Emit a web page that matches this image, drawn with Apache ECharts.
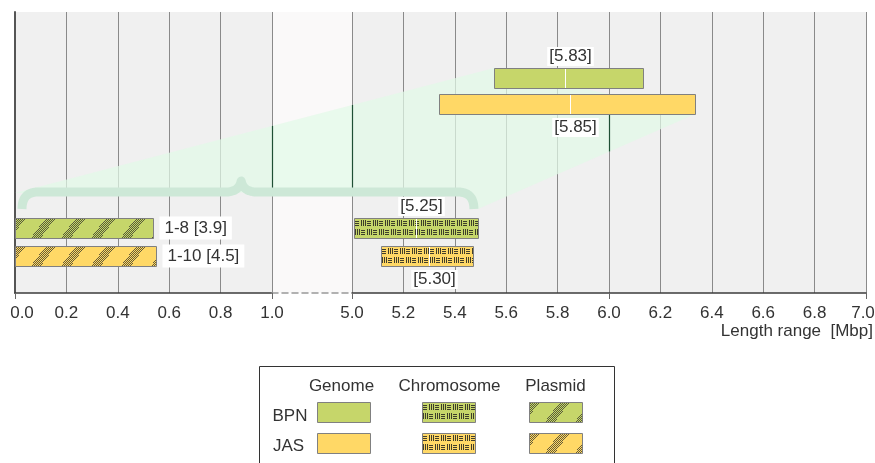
<!DOCTYPE html>
<html>
<head>
<meta charset="utf-8">
<script src="https://cdn.jsdelivr.net/npm/echarts@6/dist/echarts.min.js"></script>
<style>html,body{margin:0;padding:0;background:#fff}#chart{width:875px;height:463px}</style>
</head>
<body>
<div id="chart"></div>
<script>
// data
var groups = ['BPN', 'JAS'];
var genomeRange = [[5.553, 6.132], [5.34, 6.336]];
var genomeMedian = [5.83, 5.85];
var chromosomeRange = [[5.008, 5.49], [5.113, 5.471]];
var chromosomeMedian = [5.25, 5.30];
var plasmidRange = [[0.0, 0.537], [0.0, 0.547]];
var plasmidCount = ['1-8', '1-10'];
var plasmidMedian = [3.9, 4.5];
var leftRange = [0, 1];
var rightRange = [5, 7];
var tickStep = 0.2;
var majorLeft = [0, 1];
var majorRight = [5, 6, 7];
var legendCols = ['Genome', 'Chromosome', 'Plasmid'];

// layout / style
var FONT = '"Liberation Sans", Arial, sans-serif';
var TEXT = '#333';
var groupColor = ['#c6d66a', '#ffd866'];
var genomeRowY = [78, 104];
var lowerRowY = [228, 256];
var BAR_H = 20;
var TOP = 12, BOTTOM = 293;

// 纹理: chromosome (short dash weave) and plasmid (diagonal dotted stripes)
function chromTile() {
  var c = document.createElement('canvas');
  c.width = 12; c.height = 20;
  var ctx = c.getContext('2d');
  ctx.fillStyle = 'rgba(45,45,35,0.9)';
  function hor(x0, y0) { for (var k = 0; k < 3; k++) ctx.fillRect(x0, y0 + k * 2, 4, 1); }
  function ver(x0, y0) { for (var k = 0; k < 3; k++) ctx.fillRect(x0 + k * 2, y0, 1, 6); }
  hor(1, 3); ver(7, 2);
  ver(1, 11); hor(7, 12);
  return c;
}
function plasmidTile() {
  var W = 30, H = 40;
  var c = document.createElement('canvas');
  c.width = W; c.height = H;
  var ctx = c.getContext('2d');
  var img = ctx.createImageData(W, H);
  for (var y = 0; y < H; y++) {
    for (var x = 0; x < W; x++) {
      var u = (x + 0.75 * y) % W;
      var o = (y * W + x) * 4;
      if (u < 10 && (x + y) % 2 === 0) {
        img.data[o] = 50; img.data[o + 1] = 50; img.data[o + 2] = 40; img.data[o + 3] = 190;
      }
    }
  }
  ctx.putImageData(img, 0, 0);
  return c;
}
var CHROM = chromTile();
var PLAS = plasmidTile();

function rangeBar(rowY, labelPos, texture, labelFn) {
  return function (params, api) {
    var i = params.dataIndex;
    var p0 = api.coord([api.value(0), rowY[i]]);
    var p1 = api.coord([api.value(1), rowY[i]]);
    var x = Math.round(p0[0]) + 0.5, x2 = Math.round(p1[0]) + 0.5;
    var y = Math.round(p0[1] - BAR_H / 2) + 0.5;
    var shape = { x: x, y: y, width: x2 - x, height: BAR_H };
    var kids = [{ type: 'rect', shape: shape, style: { fill: groupColor[i] } }];
    if (texture) {
      kids.push({ type: 'rect', shape: shape, style: { fill: { image: texture, repeat: 'repeat', x: x - 0.5, y: y - 0.5 } } });
    }
    kids.push({ type: 'rect', shape: shape, style: { fill: 'none', stroke: '#808080', lineWidth: 1 } });
    if (labelPos) {
      var mx = Math.round(api.coord([api.value(2), rowY[i]])[0]) + 0.5;
      kids.push({ type: 'line', shape: { x1: mx, y1: y + 0.5, x2: mx, y2: y + BAR_H - 0.5 }, style: { stroke: '#fff', lineWidth: 1 } });
      kids.push({
        type: 'text',
        style: {
          text: '[' + api.value(2).toFixed(2) + ']',
          x: mx + 5, y: labelPos[i] === 'top' ? y - 12 : y + BAR_H + 13,
          align: 'center', verticalAlign: 'middle',
          font: '17px ' + FONT, fill: TEXT, backgroundColor: '#fff', padding: [1, 2]
        }
      });
    } else {
      kids.push({
        type: 'text',
        style: {
          text: labelFn(i),
          x: x2 + 6, y: p0[1],
          align: 'left', verticalAlign: 'middle',
          font: '17px ' + FONT, fill: TEXT, backgroundColor: '#fff', padding: [3, 5]
        }
      });
    }
    return { type: 'group', children: kids };
  };
}

function xAxisCfg(idx, range) {
  return {
    gridIndex: idx, type: 'value', min: range[0], max: range[1], interval: tickStep, position: 'bottom',
    axisLine: { show: true, lineStyle: { color: '#3c3c3c', width: 1.5 } },
    axisTick: { show: false },
    axisLabel: {
      color: TEXT, fontSize: 17, fontFamily: FONT, margin: 12,
      formatter: function (v) {
        var s = v.toFixed(1);
        if (v === 0) return '{l|' + s + '}';
        if (v === 7) return '{r|' + s + '}';
        return s;
      },
      rich: {
        l: { padding: [0, 0, 0, 14], fontSize: 17, fontFamily: FONT, color: TEXT },
        r: { padding: [0, 6, 0, 0], fontSize: 17, fontFamily: FONT, color: TEXT }
      }
    },
    splitLine: { show: true, lineStyle: { color: '#8a8a8a', width: 1 } }
  };
}
// tick-only axis for the major positions
function majorTickAxis(idx, range, majors) {
  return {
    gridIndex: idx, type: 'value', min: range[0], max: range[1], position: 'bottom',
    axisLine: { show: false },
    axisTick: { show: true, customValues: majors, length: 6, lineStyle: { color: '#666', width: 1 } },
    axisLabel: { show: false }, splitLine: { show: false }
  };
}
function yAxisCfg(idx, showLine) {
  return {
    gridIndex: idx, type: 'value', min: TOP, max: BOTTOM, inverse: true,
    axisLine: { show: showLine, lineStyle: { color: '#555', width: 2 } },
    axisTick: { show: false }, axisLabel: { show: false }, splitLine: { show: false }
  };
}

var chart = echarts.init(document.getElementById('chart'));
chart.setOption({
  animation: false,
  grid: [
    { left: 15, top: TOP, width: 257, height: BOTTOM - TOP, show: true, backgroundColor: '#f0f0f0', borderWidth: 0, outerBoundsMode: 'none' },
    { left: 352, top: TOP, width: 514, height: BOTTOM - TOP, show: true, backgroundColor: '#f0f0f0', borderWidth: 0, outerBoundsMode: 'none' },
    { left: 272, top: TOP, width: 80, height: BOTTOM - TOP, show: true, backgroundColor: '#faf9f9', borderWidth: 0, outerBoundsMode: 'none' }
  ],
  xAxis: [
    xAxisCfg(0, leftRange),
    xAxisCfg(1, rightRange),
    {
      gridIndex: 2, type: 'value', min: leftRange[1], max: rightRange[0],
      axisLine: { show: true, lineStyle: { color: '#999', width: 1.5, type: [6, 4] } },
      axisTick: { show: false }, axisLabel: { show: false }, splitLine: { show: false }
    },
    majorTickAxis(0, leftRange, majorLeft),
    majorTickAxis(1, rightRange, majorRight)
  ],
  yAxis: [yAxisCfg(0, true), yAxisCfg(1, false), yAxisCfg(2, false)],
  series: [
    {
      type: 'custom', xAxisIndex: 1, yAxisIndex: 1, z: 5,
      renderItem: rangeBar(genomeRowY, ['top', 'bottom'], null),
      data: genomeRange.map(function (r, i) { return [r[0], r[1], genomeMedian[i]]; })
    },
    {
      type: 'custom', xAxisIndex: 1, yAxisIndex: 1, z: 5,
      renderItem: rangeBar(lowerRowY, ['top', 'bottom'], CHROM),
      data: chromosomeRange.map(function (r, i) { return [r[0], r[1], chromosomeMedian[i]]; })
    },
    {
      type: 'custom', xAxisIndex: 0, yAxisIndex: 0, z: 5,
      renderItem: rangeBar(lowerRowY, null, PLAS, function (i) {
        return plasmidCount[i] + ' [' + plasmidMedian[i].toFixed(1) + ']';
      }),
      data: plasmidRange.map(function (r, i) { return [r[0], r[1], plasmidMedian[i]]; })
    }
  ]
});

// zoom shading + brace
function px(g, v) { return chart.convertToPixel({ xAxisIndex: g, yAxisIndex: g }, [v, TOP])[0]; }
function quad(p0, c, p1, n) {
  var pts = [];
  for (var k = 0; k <= n; k++) {
    var t = k / n, u = 1 - t;
    pts.push([u * u * p0[0] + 2 * u * t * c[0] + t * t * p1[0], u * u * p0[1] + 2 * u * t * c[1] + t * t * p1[1]]);
  }
  return pts;
}
function yOn(p, q, x) { return p[1] + (q[1] - p[1]) * (x - p[0]) / (q[0] - p[0]); }

var xl = px(0, plasmidRange[0][0]) + 7;
var xr = px(1, chromosomeRange[0][1]) - 4;
var xm = xl + (xr - xl) * 0.485;
var yb = 192, ytip = 181, yh = 209;
var A = [px(0, plasmidRange[0][0]), 193];
var B = [px(1, genomeRange[0][0]), genomeRowY[0] - BAR_H / 2];
var C = [px(1, genomeRange[1][1]), genomeRowY[1] + BAR_H / 2];
var D = [xr + 4, yh];
var E = [xr - 16, yb];

var brace = [].concat(
  quad([xl, yh], [xl, yb], [xl + 16, yb], 12),
  quad([xm - 16, yb], [xm - 2, yb], [xm, ytip], 12),
  quad([xm, ytip], [xm + 2, yb], [xm + 16, yb], 12),
  quad([xr - 16, yb], [xr, yb], [xr, yh], 12)
);

var darkLines = [px(0, leftRange[1]), px(1, rightRange[0])].map(function (x) {
  x = Math.round(x) + 0.5;
  return { type: 'line', z: 3, shape: { x1: x, y1: yOn(A, B, x), x2: x, y2: yb - 4 }, style: { stroke: '#1f4f35', lineWidth: 1.2 } };
});
var x6 = Math.round(px(1, majorRight[1])) + 0.5;
darkLines.push({ type: 'line', z: 3, shape: { x1: x6, y1: C[1], x2: x6, y2: yOn(C, D, x6) }, style: { stroke: '#1f4f35', lineWidth: 1.2 } });

var gfx = [
  { type: 'polygon', z: 2, silent: true, shape: { points: [A, B, C, D, E] }, style: { fill: 'rgba(226,250,231,0.72)' } },
  { type: 'polyline', z: 4, silent: true, shape: { points: brace }, style: { stroke: '#cde8d7', lineWidth: 9, fill: null, lineJoin: 'round' } },
  {
    type: 'text', z: 5, style: { text: 'Length range  [Mbp]', x: 873, y: 331, align: 'right', verticalAlign: 'middle', font: '17px ' + FONT, fill: TEXT }
  },
  { type: 'rect', z: 5, shape: { x: 259.5, y: 366.5, width: 355, height: 120 }, style: { fill: '#fff', stroke: '#333', lineWidth: 1 } }
].concat(darkLines);

// legend
var colX = [317.5, 422.5, 529.5];
var colCx = [341.5, 449.5, 555.5];
var rowYL = [402.5, 433.5];
var rowLabelX = [290, 288.5];
var rowLabelY = [416, 446.5];
var textures = [null, CHROM, PLAS];
legendCols.forEach(function (name, j) {
  gfx.push({ type: 'text', z: 6, style: { text: name, x: colCx[j], y: 386, align: 'center', verticalAlign: 'middle', font: '17px ' + FONT, fill: TEXT } });
  groups.forEach(function (g, i) {
    var shape = { x: colX[j], y: rowYL[i], width: 53, height: 20 };
    gfx.push({ type: 'rect', z: 6, shape: shape, style: { fill: groupColor[i] } });
    if (textures[j]) gfx.push({ type: 'rect', z: 6, shape: shape, style: { fill: { image: textures[j], repeat: 'repeat', x: colX[j] - 0.5, y: rowYL[i] - 0.5 } } });
    gfx.push({ type: 'rect', z: 6, shape: shape, style: { fill: 'none', stroke: '#808080', lineWidth: 1 } });
  });
});
groups.forEach(function (g, i) {
  gfx.push({ type: 'text', z: 6, style: { text: g, x: rowLabelX[i], y: rowLabelY[i], align: 'center', verticalAlign: 'middle', font: '17px ' + FONT, fill: TEXT } });
});

chart.setOption({ graphic: gfx });
</script>
</body>
</html>
